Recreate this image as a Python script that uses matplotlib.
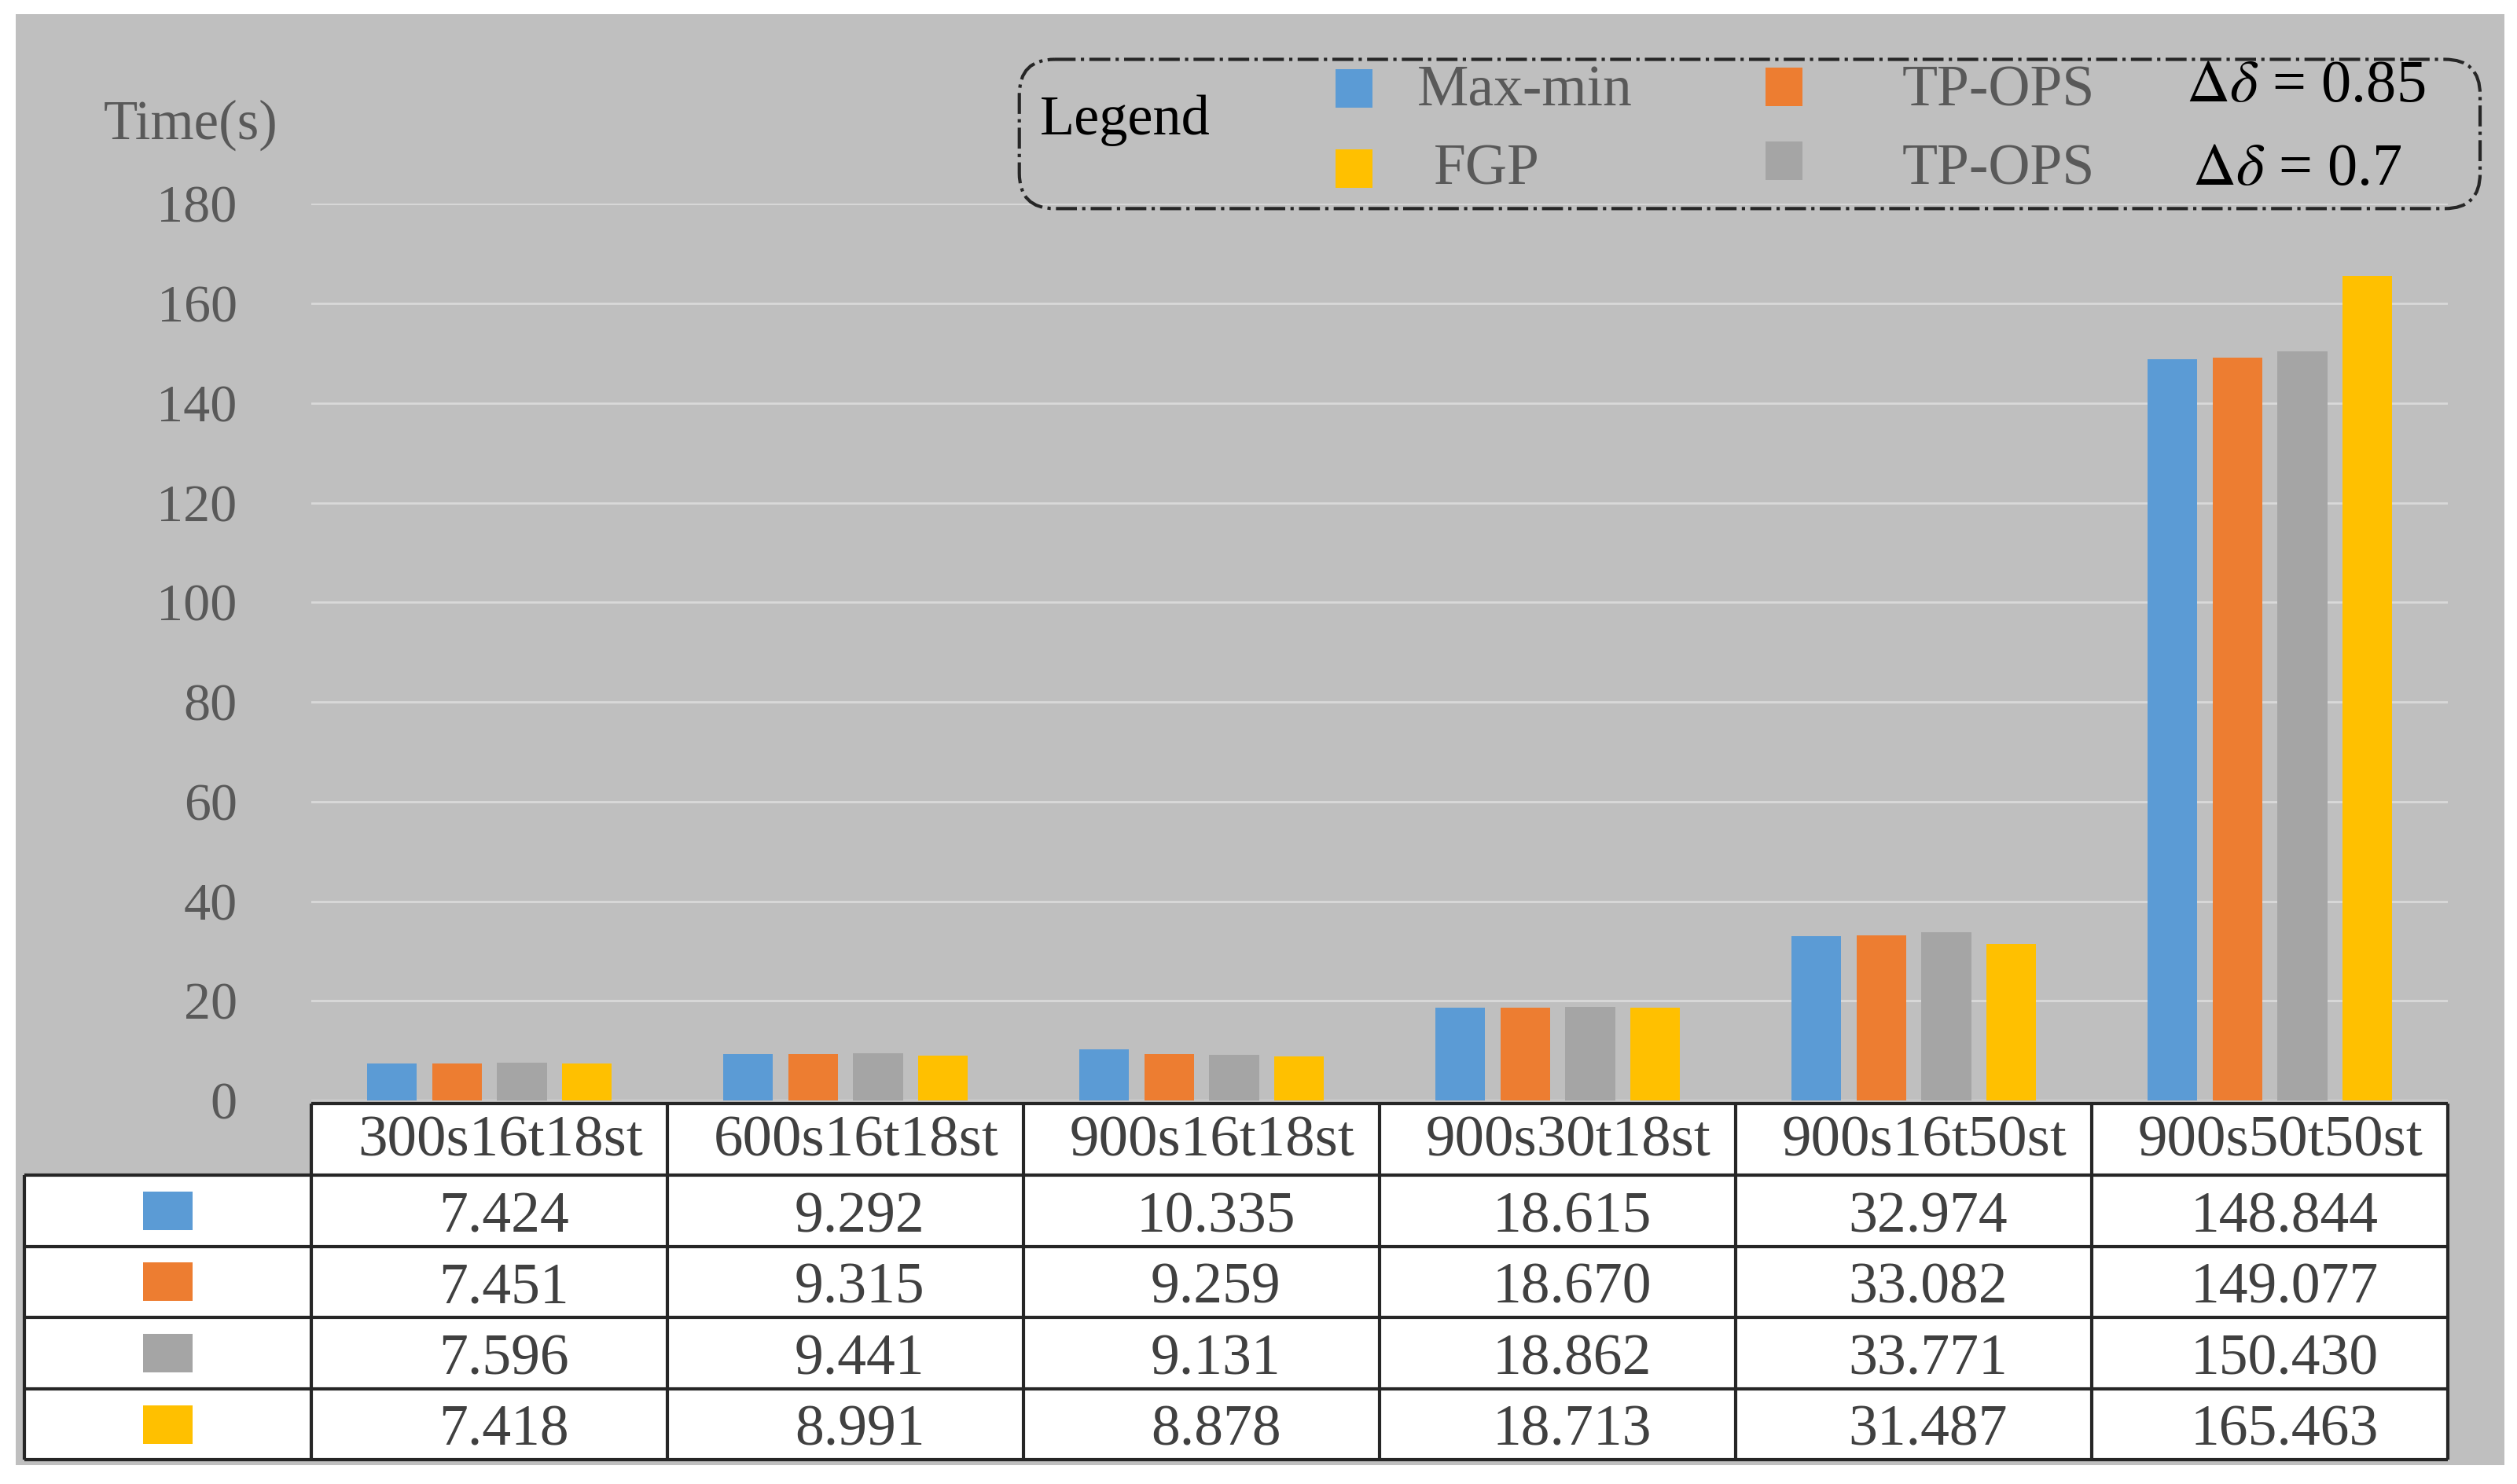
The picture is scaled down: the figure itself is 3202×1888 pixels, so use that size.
import matplotlib
matplotlib.use("Agg")
import numpy as np
import matplotlib.pyplot as plt
from matplotlib.patches import Rectangle, FancyBboxPatch

# data
categories = ['300s16t18st', '600s16t18st', '900s16t18st',
              '900s30t18st', '900s16t50st', '900s50t50st']
maxmin = [7.424, 9.292, 10.335, 18.615, 32.974, 148.844]
tpops_085 = [7.451, 9.315, 9.259, 18.670, 33.082, 149.077]
tpops_07 = [7.596, 9.441, 9.131, 18.862, 33.771, 150.430]
fgp = [7.418, 8.991, 8.878, 18.713, 31.487, 165.463]

series = [maxmin, tpops_085, tpops_07, fgp]
colors = ['#5b9bd5', '#ed7d31', '#a5a5a5', '#ffc000']

# layout is worked out on a 1568x925 grid, the figure is 3202x1888
W, H = 1568, 925


def box(x0, y0, x1, y1):
    return [x0 / W, 1 - y1 / H, (x1 - x0) / W, (y1 - y0) / H]


plt.rcParams['font.family'] = ['Liberation Serif', 'DejaVu Serif']
plt.rcParams['mathtext.fontset'] = 'stix'

fig = plt.figure(figsize=(32.02, 18.88), dpi=100, facecolor='white')

# grey chart area
fig.add_artist(Rectangle((10 / W, 1 - 913 / H), 1550 / W, 904 / H,
                         transform=fig.transFigure, facecolor='#bfbfbf',
                         edgecolor='none', zorder=-1))

# bars
ax = fig.add_axes(box(194, 127, 1525, 686))
ax.set_facecolor('none')
ax.set_xlim(-0.5, 5.5)
ax.set_ylim(0, 180)
ax.set_yticks(range(0, 181, 20))
ax.set_xticks([])
ax.set_axisbelow(True)
ax.grid(axis='y', color='#d9d9d9', linewidth=2)
for s in ax.spines.values():
    s.set_visible(False)
ax.tick_params(axis='y', length=0, pad=68, labelsize=49, labelcolor='#595959')

x = np.arange(len(categories))
step = 0.1826
for k, (vals, c) in enumerate(zip(series, colors)):
    ax.bar(x + (k - 1.5) * step, vals, width=0.14, color=c, zorder=2)

# data table under the plot
unit = (1525 - 194) / 6
left = -0.5 - (194 - 15) / unit
tax = fig.add_axes(box(15, 688, 1525, 910))
tax.set_xlim(left, 5.5)
tax.set_ylim(0, 5)
tax.axis('off')
tax.add_patch(Rectangle((-0.5, 4), 6, 1, facecolor='white', edgecolor='none'))
tax.add_patch(Rectangle((left, 0), 5.5 - left, 4, facecolor='white', edgecolor='none'))
lc = '#262626'
tax.hlines([0, 1, 2, 3, 4], left, 5.5, color=lc, lw=3, clip_on=False)
tax.hlines(5, -0.5, 5.5, color=lc, lw=3, clip_on=False)
tax.vlines(np.arange(-0.5, 6), 0, 5, color=lc, lw=3, clip_on=False)
tax.vlines(left, 0, 4, color=lc, lw=3, clip_on=False)

for i, cat in enumerate(categories):
    tax.text(i + 0.03, 4.47, cat, ha='center', va='center', fontsize=54, color='#404040')
for r, (vals, c) in enumerate(zip(series, colors)):
    yc = 3.5 - r
    sw, sh = 31 / unit, 24 / 44.4
    tax.add_patch(Rectangle(((left - 0.5) / 2 - sw / 2, yc - sh / 2), sw, sh,
                            facecolor=c, edgecolor='none'))
    for i, v in enumerate(vals):
        tax.text(i + 0.04, yc - 0.1, '{:.3f}'.format(v), ha='center', va='center',
                 fontsize=53, color='#404040')

# overlay for axis title and legend box
lax = fig.add_axes([0, 0, 1, 1])
lax.set_xlim(0, W)
lax.set_ylim(H, 0)
lax.axis('off')
lax.set_facecolor('none')

lax.text(119, 78, 'Time(s)', ha='center', va='center', fontsize=51, color='#595959')

lax.add_patch(FancyBboxPatch((635, 37), 910, 93,
                             boxstyle='round,pad=0,rounding_size=22',
                             fill=False, linestyle='dashdot', linewidth=3,
                             edgecolor='#262626'))
lax.text(648, 75, 'Legend', ha='left', va='center', fontsize=52, color='black')

legend_items = [
    (832, 43, colors[0], 883, 57, 'Max-min'),
    (832, 93, colors[3], 893, 106, 'FGP'),
    (1100, 42, colors[1], 1185, 57, 'TP-OPS'),
    (1100, 88, colors[2], 1185, 106, 'TP-OPS'),
]
for sx, sy, c, tx, ty, label in legend_items:
    lax.add_patch(Rectangle((sx, sy), 23, 24, facecolor=c, edgecolor='none'))
    lax.text(tx, ty, label, ha='left', va='center', fontsize=53, color='#595959')

lax.text(1362, 54, r'$\Delta\delta$ = 0.85', ha='left', va='center', fontsize=55, color='black')
lax.text(1366, 106, r'$\Delta\delta$ = 0.7', ha='left', va='center', fontsize=55, color='black')

fig.savefig('out.png', dpi=100)
